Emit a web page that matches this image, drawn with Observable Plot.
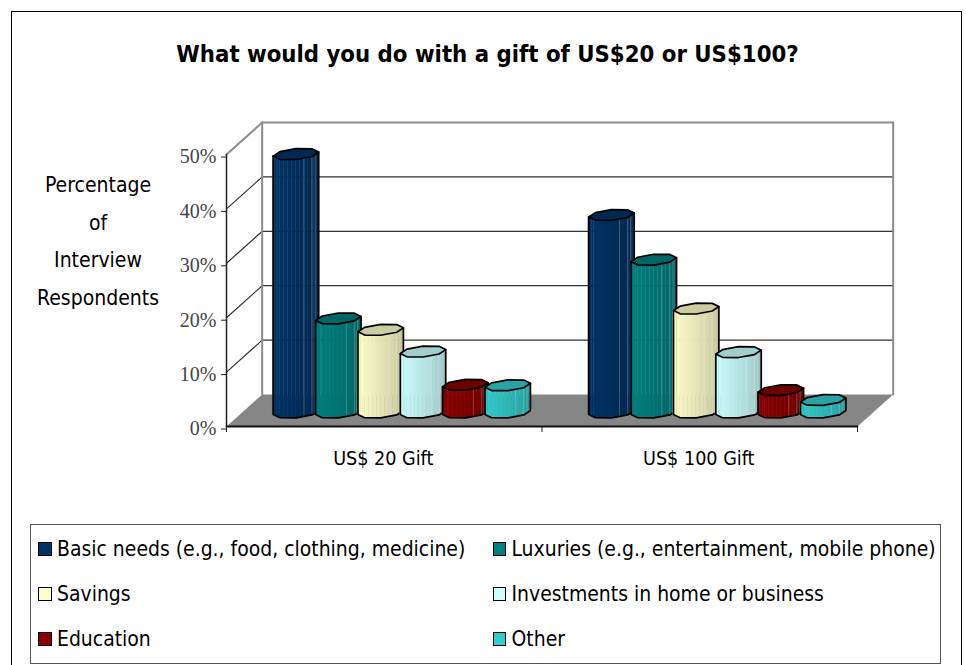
<!DOCTYPE html>
<html>
<head>
<meta charset="utf-8">
<script src="https://cdn.jsdelivr.net/npm/d3@7"></script>
<script src="https://cdn.jsdelivr.net/npm/@observablehq/plot@0.6"></script>
<style>
  html, body { margin: 0; padding: 0; background: #fff; overflow: hidden; }
  #page { position: relative; width: 966px; height: 665px; font-family: "DejaVu Sans Condensed", "DejaVu Sans", sans-serif; color: #000; }
  #frame { position: absolute; left: 11px; top: 11px; width: 951px; height: 700px; border: 1.5px solid #000; box-sizing: border-box; pointer-events: none; }
  h1 { margin: 0; height: 100px; box-sizing: border-box; padding-top: 38px; text-align: center; padding-left: 9px; font-size: 23.7px; font-weight: bold; line-height: 32px; white-space: nowrap; }
  #chart svg { display: block; }
  #legend { position: absolute; left: 30px; top: 524px; width: 911px; height: 140px; box-sizing: border-box; border: 1.5px solid #555; display: grid; grid-template-columns: 454.5px 1fr; grid-auto-rows: 45px; padding: 1px 0 0 7px; }
  .item { display: flex; align-items: center; font-size: 20.95px; white-space: nowrap; }
  .swatch { width: 13.5px; height: 14px; box-sizing: border-box; border: 1.6px solid #000; margin-right: 5.5px; flex: none; }
</style>
</head>
<body>
<div id="page">
  <div id="frame"></div>
  <h1>What would you do with a gift of US$20 or US$100?</h1>
  <div id="chart"></div>
  <div id="legend"></div>
</div>
<script>
// Survey shares per gift size, in percent of respondents
const categories = ["US$ 20 Gift", "US$ 100 Gift"];
const basicNeeds = [47.5, 36.3];
const luxuries = [17.3, 28.1];
const savings = [15.2, 19.1];
const investments = [11.2, 11.1];
const education = [5.1, 4.1];
const other = [5.0, 2.3];

const seriesNames = [
  "Basic needs (e.g., food, clothing, medicine)",
  "Luxuries (e.g., entertainment, mobile phone)",
  "Savings",
  "Investments in home or business",
  "Education",
  "Other"
];
const seriesValues = [basicNeeds, luxuries, savings, investments, education, other];
const seriesColors = ["#003366", "#008080", "#FFFFCC", "#CCFFFF", "#8B0000", "#33CCCC"];
const yTicks = [0, 10, 20, 30, 40, 50];

// Oblique projection of the chart box: how far the back plane shifts, in scale units
const depthX = 0.1131;
const depthY = 5.88;

// Column shape in scale units: pitch between columns, ellipse radii, depth of the axis
const pitch = 0.1342;
const groupShift = 0.0063;
const radiusX = 0.0676;
const skewX = 0.0247;
const radiusY = 1.06;
const columnDepth = 0.4375;
const tipAngle = Math.atan2(skewX, radiusX);
const rimSteps = 4;
const bandsPerStep = 4;

// A point on a column's rim at a given height, placed on the floor at columnDepth
function columnPoint(group, series, value, t) {
  return {
    x: group + 0.5 + groupShift + (series - 2.5) * pitch + columnDepth * depthX + radiusX * Math.cos(t) + skewX * Math.sin(t),
    y: value + columnDepth * depthY + radiusY * Math.sin(t)
  };
}
// The columns are low-polygon cylinders: a rim ring starts at the left tip and turns through the front
function rimRing(group, series, value, steps) {
  return d3.range(steps + 1).map(k => columnPoint(group, series, value, tipAngle - Math.PI + (k * Math.PI) / rimSteps));
}
// Splits each front edge of the rim so the shading bands follow the polygon
function splitEdges(points) {
  return points.slice(0, -1).flatMap((p, i) => {
    const q = points[i + 1];
    return d3.range(bandsPerStep).map(k => ({
      x: p.x + ((q.x - p.x) * k) / bandsPerStep,
      y: p.y + ((q.y - p.y) * k) / bandsPerStep
    }));
  }).concat(points[points.length - 1]);
}

function columnMarks(group, series) {
  const value = seriesValues[series][group];
  const base = seriesColors[series];
  const frontLower = rimRing(group, series, 0, rimSteps);
  const frontUpper = rimRing(group, series, value, rimSteps);
  const lower = splitEdges(frontLower);
  const upper = splitEdges(frontUpper);
  const bandCount = lower.length - 1;
  const bands = [];
  for (let k = 0; k < bandCount; ++k) {
    const fill = d3.interpolateRgb(base, "#000")(0.25 * Math.pow(k / (bandCount - 1), 1.3));
    for (const j of [k, k + 1]) {
      bands.push({ band: k, x: lower[j].x, y1: lower[j].y, y2: upper[j].y, fill });
    }
  }
  // Thin highlights where the facets on the shaded side meet
  const seams = d3.range(Math.ceil(bandCount * 0.6), bandCount, 2).flatMap(j => [
    { seam: j, x: lower[j].x, y: lower[j].y },
    { seam: j, x: upper[j].x, y: upper[j].y }
  ]);
  const silhouette = [frontUpper[0], ...frontLower, frontUpper[rimSteps]];
  const cap = rimRing(group, series, value, 2 * rimSteps);
  return [
    Plot.area(bands, { x1: "x", y1: "y1", y2: "y2", z: "band", fill: "fill", stroke: "fill", strokeWidth: 0.5, curve: "linear" }),
    Plot.line(seams, { x: "x", y: "y", z: "seam", stroke: "#ffffff", strokeOpacity: 0.28, strokeWidth: 0.8 }),
    Plot.line(cap, { x: "x", y: "y", fill: d3.interpolateRgb(base, "#000")(0.2), stroke: "none" }),
    Plot.line(silhouette, { x: "x", y: "y", stroke: "#000", strokeWidth: 1.7, strokeLinejoin: "round" }),
    Plot.line(cap, { x: "x", y: "y", stroke: "#000", strokeWidth: 1.7, strokeLinejoin: "round" })
  ];
}

// Floor, walls and gridlines of the chart box
const floor = [
  { x: 0, y: 0 }, { x: depthX, y: depthY }, { x: 2 + depthX, y: depthY }, { x: 2, y: 0 }
];
const gridRows = yTicks.filter(v => v > 0).flatMap(v => [
  { tick: v, x: 0, y: v },
  { tick: v, x: depthX, y: v + depthY },
  { tick: v, x: 2 + depthX, y: v + depthY }
]);

const plot = Plot.plot({
  width: 966,
  height: 420,
  marginLeft: 226,
  marginRight: 109,
  marginTop: 54,
  marginBottom: 94,
  style: { background: "transparent", overflow: "visible" },
  x: { domain: [0, 2] },
  y: { domain: [0, 50] },
  marks: [
    Plot.line(floor, { x: "x", y: "y", fill: "#868686", stroke: "none" }),
    Plot.line(gridRows.filter(d => d.tick < 50), { x: "x", y: "y", z: "tick", stroke: "#333", strokeWidth: 1.2 }),
    Plot.line(gridRows.filter(d => d.tick === 50), { x: "x", y: "y", stroke: "#8c8c8c", strokeWidth: 2 }),
    Plot.line([{ x: depthX, y: depthY }, { x: depthX, y: 50 + depthY }], { x: "x", y: "y", stroke: "#8c8c8c", strokeWidth: 2 }),
    Plot.line([{ x: 2 + depthX, y: depthY }, { x: 2 + depthX, y: 50 + depthY }], { x: "x", y: "y", stroke: "#8c8c8c", strokeWidth: 2 }),
    categories.flatMap((_, group) => seriesNames.flatMap((_, series) => columnMarks(group, series))),
    Plot.line([{ x: 0, y: 0 }, { x: 2, y: 0 }], { x: "x", y: "y", stroke: "#111", strokeWidth: 1.8 }),
    Plot.line([{ x: 0, y: 0 }, { x: 0, y: 50 }], { x: "x", y: "y", stroke: "#222", strokeWidth: 1.5 }),
    Plot.axisY({
      ticks: yTicks, tickFormat: d => d + "%", tickSize: 5, tickPadding: 5, label: null,
      fontFamily: "Liberation Serif", fontSize: 20, fill: "#444", stroke: "#222", dy: 2.5
    }),
    Plot.axisX({ ticks: [0, 1, 2], tickFormat: () => "", tickSize: 6, label: null, stroke: "#222" }),
    Plot.axisX({
      ticks: [0.5, 1.5], tickFormat: d => categories[d - 0.5], tickSize: 0, tickPadding: 25, label: null,
      fontFamily: "DejaVu Sans Condensed", fontSize: 19.6, fill: "#000", dx: -1
    }),
    Plot.text(["Percentage\nof\nInterview\nRespondents"], {
      frameAnchor: "top-left", dx: -128.5, dy: 11, textAnchor: "middle", lineAnchor: "top", lineHeight: 1.79,
      fontFamily: "DejaVu Sans Condensed", fontSize: 21, fill: "#000"
    })
  ]
});
document.getElementById("chart").append(plot);

const legend = document.getElementById("legend");
seriesNames.forEach((name, i) => {
  const item = document.createElement("div");
  item.className = "item";
  const swatch = document.createElement("span");
  swatch.className = "swatch";
  swatch.style.background = seriesColors[i];
  const label = document.createElement("span");
  label.textContent = name;
  item.append(swatch, label);
  legend.append(item);
});
</script>
</body>
</html>
